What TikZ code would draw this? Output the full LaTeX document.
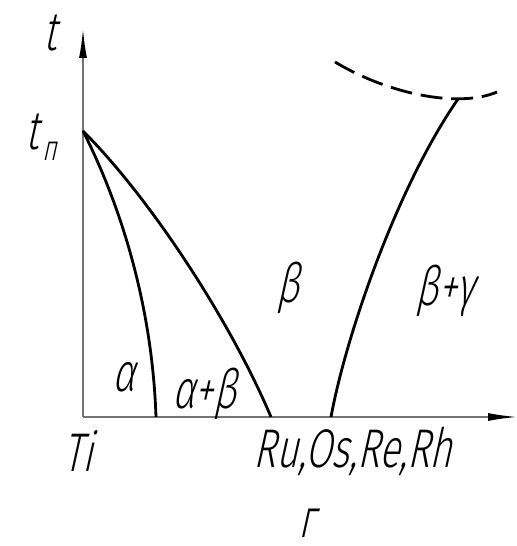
\documentclass[tikz,border=0pt]{standalone}
\usepackage{fontspec}
\setmainfont{Fira Sans Light}[FakeStretch=0.70,FakeSlant=0.22]
\usetikzlibrary{arrows.meta}
\tikzset{
  axis/.style={line width=1.1pt,black!55,-{Latex[length=17pt,width=4.5pt,black]}},
  phase/.style={line width=1.6pt},
  lbl/.style={font=\fontsize{31}{34}\selectfont,inner sep=0pt},
}
\begin{document}
\begin{tikzpicture}[x=0.02cm,y=-0.02cm]
\useasboundingbox (0,0) rectangle (516,546);
\coordinate (O) at (83,417);
\coordinate (ytop) at (83,28);
\coordinate (xend) at (518,417);
\coordinate (tn) at (83,131);
\coordinate (a) at (156,417);
\coordinate (ab) at (271,417);
\coordinate (bg) at (331,417);
\coordinate (top) at (458,99);
\coordinate (dl) at (335,62);
\coordinate (dr) at (497,92);
\draw[axis] (O) -- (ytop);
\draw[axis] (O) -- (xend);
\draw[phase] (tn) .. controls (118,200) and (152,300) .. (a);
\draw[phase] (tn) .. controls (150,198) and (230,320) .. (ab);
\draw[phase] (bg) .. controls (345,340) and (395,190) .. (top);
\draw[phase,dash pattern=on 12.5pt off 5pt] (dl) .. controls (390,95) and (460,108) .. (dr);
\node[lbl] (tlab) at (50,33) {t};
\node[lbl] (tnlab) at (41,137) {t\kern2pt\raisebox{-0.4ex}{\fontsize{20}{21}\selectfont п}};
\node[lbl] (alpha) at (124,377) {α};
\node[lbl] (alphabeta) at (204,394) {α+β};
\node[lbl] (beta) at (288,288) {β};
\node[lbl] (betagamma) at (445,291) {β+γ};
\node[lbl] (ti) at (78,451) {Ti};
\node[lbl] (elems) at (353,451) {Ru,Os,Re,Rh};
\node[lbl,anchor=base] (cap) at (307,537) {г};
\end{tikzpicture}
\end{document}
